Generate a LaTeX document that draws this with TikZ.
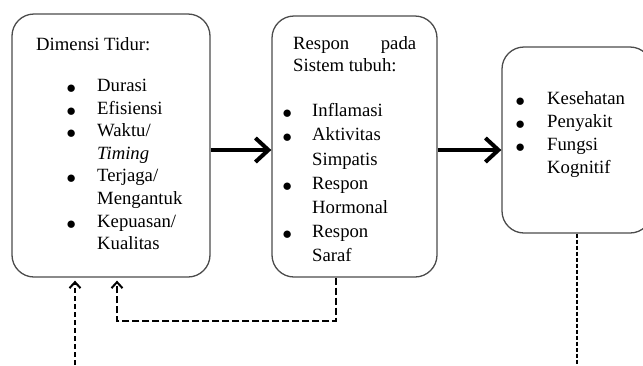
\documentclass[tikz,border=0pt]{standalone}
\usepackage{fontspec}
\setmainfont{Liberation Serif}
\usetikzlibrary{arrows.meta}

\newcommand{\butir}[1]{\makebox[#1][l]{\raisebox{-2pt}{\fontsize{17}{17}\selectfont ●}}}

\begin{document}
\begin{tikzpicture}[x=1pt,y=-1pt,
    kotak/.style={draw=black!70, line width=1.3pt, rounded corners=22pt, inner sep=0pt},
    teks/.style={anchor=north west, align=left, inner sep=0pt},
    panah/.style={line width=4pt, -{Straight Barb[length=13pt,width=24pt]}},
    balik/.style={line width=2pt, dash pattern=on 7pt off 3pt, -{Straight Barb[length=6pt,width=11pt]}, shorten >=3pt}]
    \useasboundingbox (0,0) rectangle (643,365);

    % kotak
    \node[kotak, minimum width=198pt, minimum height=263pt] (dimensi) at (111,145.5) {};
    \node[kotak, minimum width=165pt, minimum height=261pt] (respon) at (354.5,146.5) {};
    \node[kotak, minimum width=150pt, minimum height=186pt] (dampak) at (577,140) {};

    % isi kotak
    \node[teks, font=\fontsize{18.7}{22}\selectfont] (judulA) at (36,37) {Dimensi Tidur:};
    \node[teks, font=\fontsize{18.7}{22.6}\selectfont] (daftarA) at (66,79) {%
        \butir{31pt}Durasi\\
        \butir{31pt}Efisiensi\\
        \butir{31pt}Waktu/\\
        \hspace*{31pt}\textit{Timing}\\
        \butir{31pt}Terjaga/\\
        \hspace*{31pt}Mengantuk\\
        \butir{31pt}Kepuasan/\\
        \hspace*{31pt}Kualitas};

    \node[teks, font=\fontsize{18.7}{22}\selectfont] (judulB) at (293,36) {%
        \makebox[123pt][s]{Respon\hfill pada}\\
        Sistem tubuh:};
    \node[teks, font=\fontsize{18.7}{24.1}\selectfont] (daftarB) at (282,103.5) {%
        \butir{30pt}Inflamasi\\
        \butir{30pt}Aktivitas\\
        \hspace*{30pt}Simpatis\\
        \butir{30pt}Respon\\
        \hspace*{30pt}Hormonal\\
        \butir{30pt}Respon\\
        \hspace*{30pt}Saraf};

    \node[teks, font=\fontsize{18.7}{23}\selectfont] (daftarC) at (515,91) {%
        \butir{32pt}Kesehatan\\
        \butir{32pt}Penyakit\\
        \butir{32pt}Fungsi\\
        \hspace*{32pt}Kognitif};

    % panah
    \coordinate (jalur) at (0,150);
    \draw[panah] (dimensi.east |- jalur) -- (respon.west |- jalur);
    \draw[panah] (respon.east |- jalur) -- (dampak.west |- jalur);

    % umpan balik
    \coordinate (bawah) at (75,365);
    \coordinate (sudutA) at (336,321);
    \coordinate (sudutB) at (117,321);
    \draw[balik, dash pattern=on 5pt off 3pt] (bawah) -- (bawah |- dimensi.south);
    \draw[balik] (sudutA |- respon.south) -- (sudutA) -- (sudutB) -- (sudutB |- dimensi.south);
    \draw[line width=2pt, dash pattern=on 4pt off 2pt] (dampak.south) -- (dampak.south |- bawah);
\end{tikzpicture}
\end{document}
